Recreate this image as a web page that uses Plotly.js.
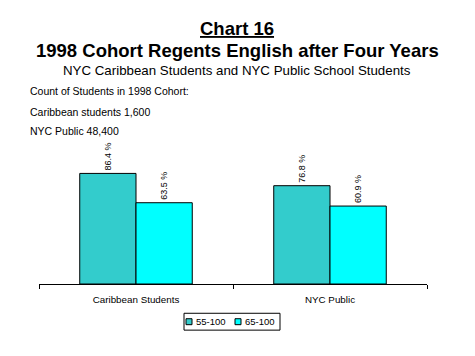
<!DOCTYPE html>
<html>
<head>
<meta charset="utf-8">
<script src="https://cdn.plot.ly/plotly-3.0.1.min.js"></script>
<style>html,body{margin:0;padding:0;background:#fff;}#chart{width:475px;height:356px;}</style>
</head>
<body>
<div id="chart"></div>
<script>
var categories = ['Caribbean Students', 'NYC Public'];
var series1Name = '55-100';
var series2Name = '65-100';
var series1 = [86.4, 76.8];
var series2 = [63.5, 60.9];
var seriesColors = ['#33CCCC', '#00FFFF'];
var noteLines = ['Count of Students in 1998 Cohort:', 'Caribbean students 1,600', 'NYC Public 48,400'];

var FONT = 'Arial, Liberation Sans, sans-serif';
function lbl(v){ return v.toFixed(1) + ' %'; }
var traces = [
  {type:'bar', name:series1Name, x:categories, y:series1, showlegend:false,
   marker:{color:seriesColors[0], line:{color:'#000', width:1}},
   text:series1.map(lbl), textposition:'outside', textangle:-90,
   textfont:{family:FONT, size:9, color:'#000'}, cliponaxis:false},
  {type:'bar', name:series2Name, x:categories, y:series2, showlegend:false,
   marker:{color:seriesColors[1], line:{color:'#000', width:1}},
   text:series2.map(lbl), textposition:'outside', textangle:-90,
   textfont:{family:FONT, size:9, color:'#000'}, cliponaxis:false}
];

var L = 39, R = 48, T = 155.5, B = 71.5, W = 475, H = 356;
var pw = W - L - R, ph = H - T - B;
function px2x(p){ return (p - L)/pw; }
function px2y(p){ return (H - B - p)/ph; }

var annotations = [
  {text:'<b><u>Chart 16</u></b>', px:W/2, py:27, size:18.5, anchor:'center'},
  {text:'<b>1998 Cohort Regents English after Four Years</b>', px:W/2, py:49, size:18.5, anchor:'center'},
  {text:'NYC Caribbean Students and NYC Public School Students', px:W/2, py:69, size:13.3, anchor:'center'}
];
var ys = [90, 111, 130];
noteLines.forEach(function(t, i){
  annotations.push({text:t, px:28, py:ys[i], size:10.5, anchor:'left'});
});

// custom compact legend (box, swatches, names)
var shapes = [];
var legBox = {x0:184, x1:280, y0:314, y1:331};
shapes.push({type:'rect', xref:'paper', yref:'paper', x0:px2x(legBox.x0), x1:px2x(legBox.x1),
             y0:px2y(legBox.y1), y1:px2y(legBox.y0), line:{color:'#000', width:1}, fillcolor:'#fff'});
var legItems = [{name:series1Name, sx:186, tx:194}, {name:series2Name, sx:235, tx:243}];
legItems.forEach(function(it, i){
  shapes.push({type:'rect', xref:'paper', yref:'paper', x0:px2x(it.sx), x1:px2x(it.sx+6),
               y0:px2y(325.5), y1:px2y(319.5), line:{color:'#000', width:1}, fillcolor:seriesColors[i]});
  annotations.push({text:it.name, px:it.tx, py:322.5, size:9.5, anchor:'left'});
});

annotations = annotations.map(function(a){
  return {text:a.text, x:px2x(a.px), y:px2y(a.py), xref:'paper', yref:'paper',
          xanchor:a.anchor, yanchor:'middle', showarrow:false,
          font:{family:FONT, size:a.size, color:'#000'}};
});

var layout = {
  width:475, height:356,
  margin:{l:L, r:R, t:T, b:B, pad:0},
  paper_bgcolor:'#fff', plot_bgcolor:'#fff',
  barmode:'group', bargap:0.42, bargroupgap:0,
  showlegend:false,
  xaxis:{type:'category', range:[-0.5, 1.5], showline:true, linecolor:'#000', linewidth:1,
         ticks:'outside', tickson:'boundaries', ticklen:4, tickcolor:'#000', ticklabelstandoff:6,
         tickfont:{family:FONT, size:9.8, color:'#000'}, showgrid:false, zeroline:false, fixedrange:true},
  yaxis:{range:[0, 100], visible:false, showgrid:false, zeroline:false, fixedrange:true},
  annotations:annotations,
  shapes:shapes,
  font:{family:FONT}
};
Plotly.newPlot('chart', traces, layout, {displayModeBar:false, staticPlot:true});
</script>
</body>
</html>
